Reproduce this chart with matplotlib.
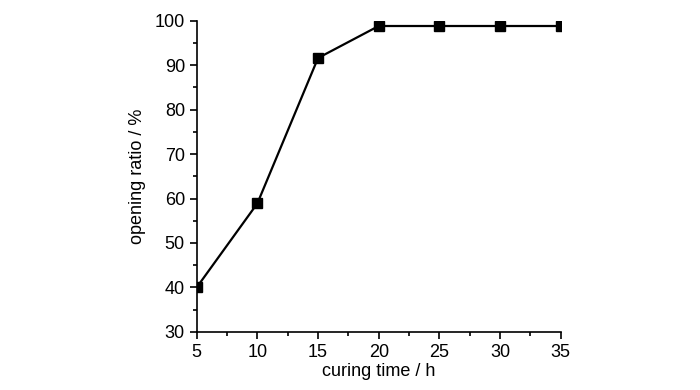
import matplotlib.pyplot as plt
from matplotlib.ticker import MultipleLocator

plt.rcParams['font.family'] = ['Liberation Sans', 'DejaVu Sans']

# curing time (h) vs opening ratio (%)
curing_time = [5, 10, 15, 20, 25, 30, 35]
opening_ratio = [40, 58.9, 91.6, 98.8, 98.8, 98.8, 98.8]

fig = plt.figure(figsize=(7, 3.9), dpi=100)
ax = fig.add_axes([0.281, 0.149, 0.52, 0.798])

ax.plot(curing_time, opening_ratio, color='black', linewidth=1.6,
        marker='s', markersize=7.5, clip_on=True)

ax.set_xlim(5, 35)
ax.set_ylim(30, 100)
ax.xaxis.set_major_locator(MultipleLocator(5))
ax.xaxis.set_minor_locator(MultipleLocator(2.5))
ax.yaxis.set_major_locator(MultipleLocator(10))
ax.yaxis.set_minor_locator(MultipleLocator(5))

ax.spines['top'].set_visible(False)
ax.spines['right'].set_visible(False)
for s in ['left', 'bottom']:
    ax.spines[s].set_linewidth(1.2)

ax.tick_params(which='major', direction='out', length=5, width=1.2, labelsize=13)
ax.tick_params(which='minor', direction='out', length=3, width=1.2)

ax.set_xlabel('curing time / h', fontsize=13, labelpad=2)
ax.set_ylabel('opening ratio / %', fontsize=13, labelpad=6)

fig.savefig('out.png', dpi=100)
